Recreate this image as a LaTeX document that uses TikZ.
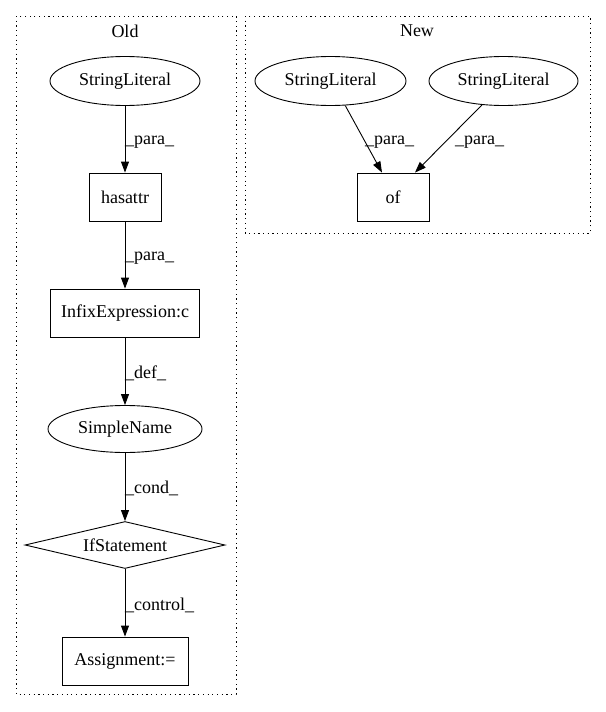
\documentclass[tikz,border=0pt]{standalone}
\usepackage{fontspec}
\setmainfont{Liberation Serif}
\usetikzlibrary{shapes.geometric,arrows.meta,calc}
\begin{document}
\begin{tikzpicture}[x=1pt,y=-1pt,
  every node/.style={font=\fontsize{18}{21}\selectfont, inner sep=0pt},
  ell/.style={draw, ellipse, line width=0.9pt},
  box/.style={draw, rectangle, line width=0.9pt},
  dia/.style={draw, diamond, aspect=4.26, line width=0.9pt},
  edge/.style={draw, line width=0.9pt, -{Triangle[length=11pt,width=8pt]}},
  elab/.style={anchor=west},
  cluster/.style={draw, line width=1pt, dash pattern=on 1.2pt off 3.5pt}
]
\useasboundingbox (0,0) rectangle (605,712);
% clusters
\draw[cluster] (16,16) rectangle (236,694);
\draw[cluster] (245,16) rectangle (590,233);
\node (oldlab) at (125,31) {Old};
\node (newlab) at (417,31) {New};
% Old
\node[ell, minimum width=150pt, minimum height=49pt] (sl1) at (125,81) {StringLiteral};
\node[box, minimum width=72pt, minimum height=48pt] (hasattr) at (125,197) {hasattr};
\node[box, minimum width=149pt, minimum height=48pt] (infix) at (125,313) {InfixExpression:c};
\node[ell, minimum width=154pt, minimum height=47pt] (simple) at (125,429) {SimpleName};
\node[dia, minimum width=200pt, minimum height=47pt] (ifst) at (125,545) {IfStatement};
\node[box, minimum width=126pt, minimum height=48pt] (assign) at (125,661) {Assignment:=};
\path[edge] (sl1) -- (hasattr);
\path[edge] (hasattr) -- (infix);
\path[edge] (infix) -- (simple);
\path[edge] (simple) -- (ifst);
\path[edge] (ifst) -- (assign);
\node[elab] (l1) at (125,142) {\_para\_};
\node[elab] (l2) at (125,258) {\_para\_};
\node[elab] (l3) at (125,373) {\_def\_};
\node[elab] (l4) at (125,488) {\_cond\_};
\node[elab] (l5) at (125,605) {\_control\_};
% New
\node[ell, minimum width=151pt, minimum height=49pt] (sl2) at (330.5,81) {StringLiteral};
\node[ell, minimum width=149pt, minimum height=49pt] (sl3) at (503.5,81) {StringLiteral};
\node[box, minimum width=72pt, minimum height=48pt] (of) at (393,197) {of};
\path[edge] (sl2.-59) -- ($(of.north)+(-11,0)$);
\path[edge] (sl3.-132) -- ($(of.north)+(22,0)$);
\node[elab] (l6) at (365,142) {\_para\_};
\node[elab] (l7) at (455,142) {\_para\_};
\end{tikzpicture}
\end{document}
